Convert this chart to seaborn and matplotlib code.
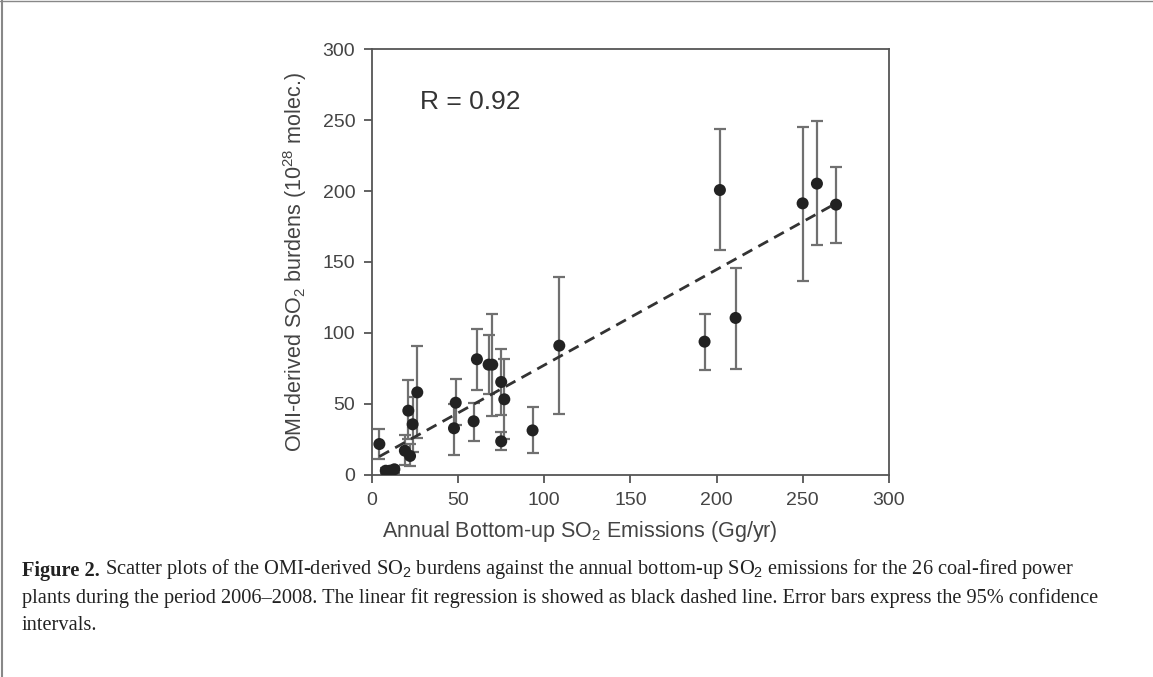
import numpy as np
import pandas as pd
import matplotlib
matplotlib.use('Agg')
import matplotlib.pyplot as plt
from matplotlib.lines import Line2D
import seaborn as sns

# --- data ---
emissions = [4.3, 8, 10.5, 13, 19.1, 22.1, 21.1, 23.6, 26.3, 47.6, 48.6, 59.0, 60.9,
             67.7, 69.8, 75.0, 76.8, 75.0, 93.2, 108.7, 193.0, 201.9, 211.0, 249.9, 258.2, 269.3]
burdens = [21.8, 3, 3, 4, 17.1, 13.4, 45.3, 35.7, 58.2, 32.9, 50.9, 37.8, 81.5,
           77.7, 77.7, 65.5, 53.3, 23.7, 31.4, 91.1, 93.9, 200.7, 110.6, 191.3, 205.2, 190.4]
err_low = [11.3, 1, 1, 1.5, 7, 6, 25, 16.4, 25.8, 14.1, 35, 24.2, 59.9,
           57, 41.5, 42, 25, 17.6, 15.7, 43, 73.9, 158.5, 74.9, 136.8, 162.2, 163.6]
err_high = [32.4, 5, 5, 6.5, 28.2, 22, 66.9, 54.7, 90.8, 50, 67.6, 50.9, 103,
            98.6, 113.6, 88.5, 81.9, 30, 47.7, 139.7, 113.4, 243.4, 146, 245.3, 249, 217.1]
fit_slope = 0.673
fit_intercept = 10.1
r_value = 0.92

df = pd.DataFrame({'emis': emissions, 'burden': burdens, 'lo': err_low, 'hi': err_high})
fit = pd.DataFrame({'emis': [df['emis'].min(), df['emis'].max()]})
fit['burden'] = fit_intercept + fit_slope * fit['emis']

sns.set_style('ticks')
plt.rcParams['font.family'] = ['Liberation Sans', 'DejaVu Sans']
plt.rcParams['mathtext.fontset'] = 'custom'
plt.rcParams['mathtext.rm'] = 'Liberation Sans'
plt.rcParams['mathtext.it'] = 'Liberation Sans:italic'

fig = plt.figure(figsize=(11.53, 6.77), dpi=100)
ax = fig.add_axes([0.3226, 0.2984, 0.4484, 0.6292])

grey = '#444444'
ax.errorbar(df['emis'], df['burden'],
            yerr=[df['burden'] - df['lo'], df['hi'] - df['burden']],
            fmt='none', ecolor='#707070', elinewidth=1.6, capsize=4, capthick=1.6, zorder=2)
sns.scatterplot(data=df, x='emis', y='burden', ax=ax, color='#222222', s=75,
                edgecolor='none', zorder=3)
sns.lineplot(data=fit, x='emis', y='burden', ax=ax, color='#333333', lw=2.0, zorder=4)
ax.lines[-1].set_dashes((4, 2.5))

ax.set_xlim(0, 300)
ax.set_ylim(0, 300)
ax.set_xticks(np.arange(0, 301, 50))
ax.set_yticks(np.arange(0, 301, 50))
for s in ax.spines.values():
    s.set_color('#555555')
    s.set_linewidth(1.3)
ax.tick_params(direction='out', length=6, width=1.3, color='#555555',
               labelsize=14, labelcolor=grey, pad=6)

ax.set_xlabel('Annual Bottom-up SO$_2$ Emissions (Gg/yr)', fontsize=15.5, color=grey, va='center')
ax.xaxis.set_label_coords((580 - 372) / 517, -0.133)
ax.set_ylabel('OMI-derived SO$_2$ burdens (10$^{28}$ molec.)', fontsize=15.5, color=grey, labelpad=10)
ax.text(28, 263, f'R = {r_value}', fontsize=19, color='#333333', va='center', ha='left')

# caption
serif = ['Liberation Serif', 'DejaVu Serif']
cap_size = 14.7
t1 = fig.text(22 / 1153, 1 - 576 / 677, 'Figure 2.', fontsize=cap_size, family=serif,
              fontweight='bold', color='#222222', va='baseline')
plt.annotate(' Scatter plots of the OMI-derived SO$_2$ burdens against the annual bottom-up SO$_2$ '
             'emissions for the 26 coal-fired power', xy=(1, 0), xycoords=t1,
             fontsize=cap_size, family=serif, color='#222222', va='bottom')
fig.text(22 / 1153, 1 - 603 / 677,
         'plants during the period 2006\u20132008. The linear fit regression is showed as black dashed line. '
         'Error bars express the 95% confidence',
         fontsize=cap_size, family=serif, color='#222222', va='baseline')
fig.text(22 / 1153, 1 - 630 / 677, 'intervals.', fontsize=cap_size, family=serif,
         color='#222222', va='baseline')

# frame lines at the page edges
fig.add_artist(Line2D([0.002, 0.002], [0, 1], transform=fig.transFigure, color='#888888', lw=1.5))
fig.add_artist(Line2D([0, 1], [0.998, 0.998], transform=fig.transFigure, color='#888888', lw=1.0))

fig.savefig('out.png', dpi=100)
